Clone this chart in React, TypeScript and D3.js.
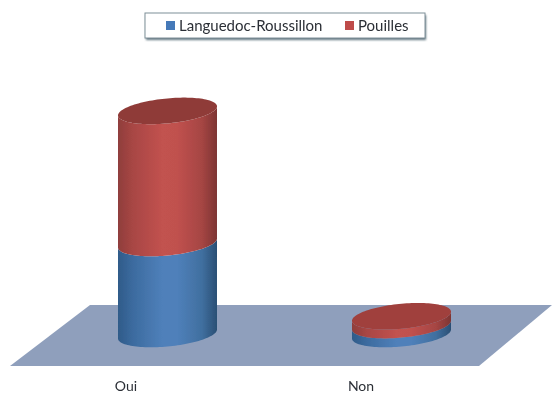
import React from "react";
import * as d3 from "d3";

const categories = ["Oui", "Non"];
const seriesNames = ["Languedoc-Roussillon", "Pouilles"];
const languedoc = [41, 4];
const pouilles = [59.5, 4];
const floorCorners: [number, number][] = [[10, 366], [479, 366], [552, 305], [90, 305]];

const W = 552, H = 394;
const rows = categories.map((c, i) => ({ cat: c, [seriesNames[0]]: languedoc[i], [seriesNames[1]]: pouilles[i] }));
const stacked = d3.stack<any>().keys(seriesNames)(rows);
const y = d3.scaleLinear().domain([0, 100]).range([334, 112]);
const x = d3.scaleBand<string>().domain(categories).range([118, 451]).paddingInner(0.577).paddingOuter(0);
const labelX = d3.scalePoint<string>().domain(categories).range([126, 361]);

const RY = 12.5, TILT = -4.5;
const ellipsePt = (cx: number, cy: number, rx: number, t: number): [number, number] => [
  cx + rx * Math.cos(t),
  cy + RY * Math.sin(t) + TILT * Math.cos(t),
];
const angles = d3.range(0, 61).map((i) => (i / 60) * Math.PI);
const fullAngles = d3.range(0, 121).map((i) => (i / 120) * 2 * Math.PI);
const line = d3.line();
const sidePath = (cx: number, rx: number, yTop: number, yBot: number) => {
  const bottom = angles.map((t) => ellipsePt(cx, yBot, rx, t));
  const top = [...angles].reverse().map((t) => ellipsePt(cx, yTop, rx, t));
  return line([...bottom, ...top]) + "Z";
};
const capPath = (cx: number, rx: number, yy: number) =>
  line(fullAngles.map((t) => ellipsePt(cx, yy, rx, t))) + "Z";

const grad = (id: string, stops: string[]) => (
  <linearGradient id={id} x1="0" x2="1" y1="0" y2="0">
    {stops.map((s, i) => (
      <stop key={i} offset={[0, 0.15, 0.45, 0.6, 0.85, 1][i]} stopColor={s} />
    ))}
  </linearGradient>
);

const fills = ["url(#gBlue)", "url(#gRed)"];
const swatches = ["#4579b8", "#be4b48"];
const fontFamily = "Lato, 'Open Sans', sans-serif";

export default function App() {
  const rx = x.bandwidth() / 2;
  return (
    <svg width={W} height={H} style={{ position: "absolute", left: 0, top: 0, background: "#fff" }}>
      <defs>
        {grad("gBlue", ["#2f5b89", "#3c6b9f", "#4f80ba", "#4f80ba", "#406f9f", "#2a4f74"])}
        {grad("gRed", ["#8f3e3c", "#a84644", "#c2524f", "#c0514e", "#a54543", "#7d3533"])}
        <filter id="soft" x="-5%" y="-5%" width="110%" height="110%">
          <feGaussianBlur stdDeviation="0.6" />
        </filter>
        <filter id="shadow" x="-5%" y="-30%" width="110%" height="170%">
          <feGaussianBlur stdDeviation="1" />
        </filter>
      </defs>
      <g filter="url(#soft)">
        <polygon points={floorCorners.map((p) => p.join(",")).join(" ")} fill="#8f9fbc" />
        {categories.map((c, i) => {
          const cx = x(c)! + rx;
          return (
            <g key={c}>
              {stacked.map((s, k) => (
                <path key={k} d={sidePath(cx, rx, y(s[i][1]), y(s[i][0]))} fill={fills[k]} />
              ))}
              <path d={capPath(cx, rx, y(stacked[1][i][1]))} fill={i === 0 ? "#8f3b39" : "#a0403d"} />
            </g>
          );
        })}
        <rect x={146} y={15} width={280} height={25} fill="#5f7480" filter="url(#shadow)" />
        <rect x={145} y={13} width={280} height={25} fill="#fff" stroke="#7f8f98" strokeWidth={1} />
        {seriesNames.map((n, i) => {
          const sx = [166, 345][i];
          return (
            <g key={n}>
              <rect x={sx} y={21} width={9} height={9} fill={swatches[i]} />
              <text x={sx + 13} y={31} fontSize={15} fontFamily={fontFamily} fill="#2b2f36">{n}</text>
            </g>
          );
        })}
        {categories.map((c) => (
          <text key={c} x={labelX(c)} y={391} textAnchor="middle" fontSize={14} fontFamily={fontFamily} fill="#2b2f36">{c}</text>
        ))}
      </g>
    </svg>
  );
}
